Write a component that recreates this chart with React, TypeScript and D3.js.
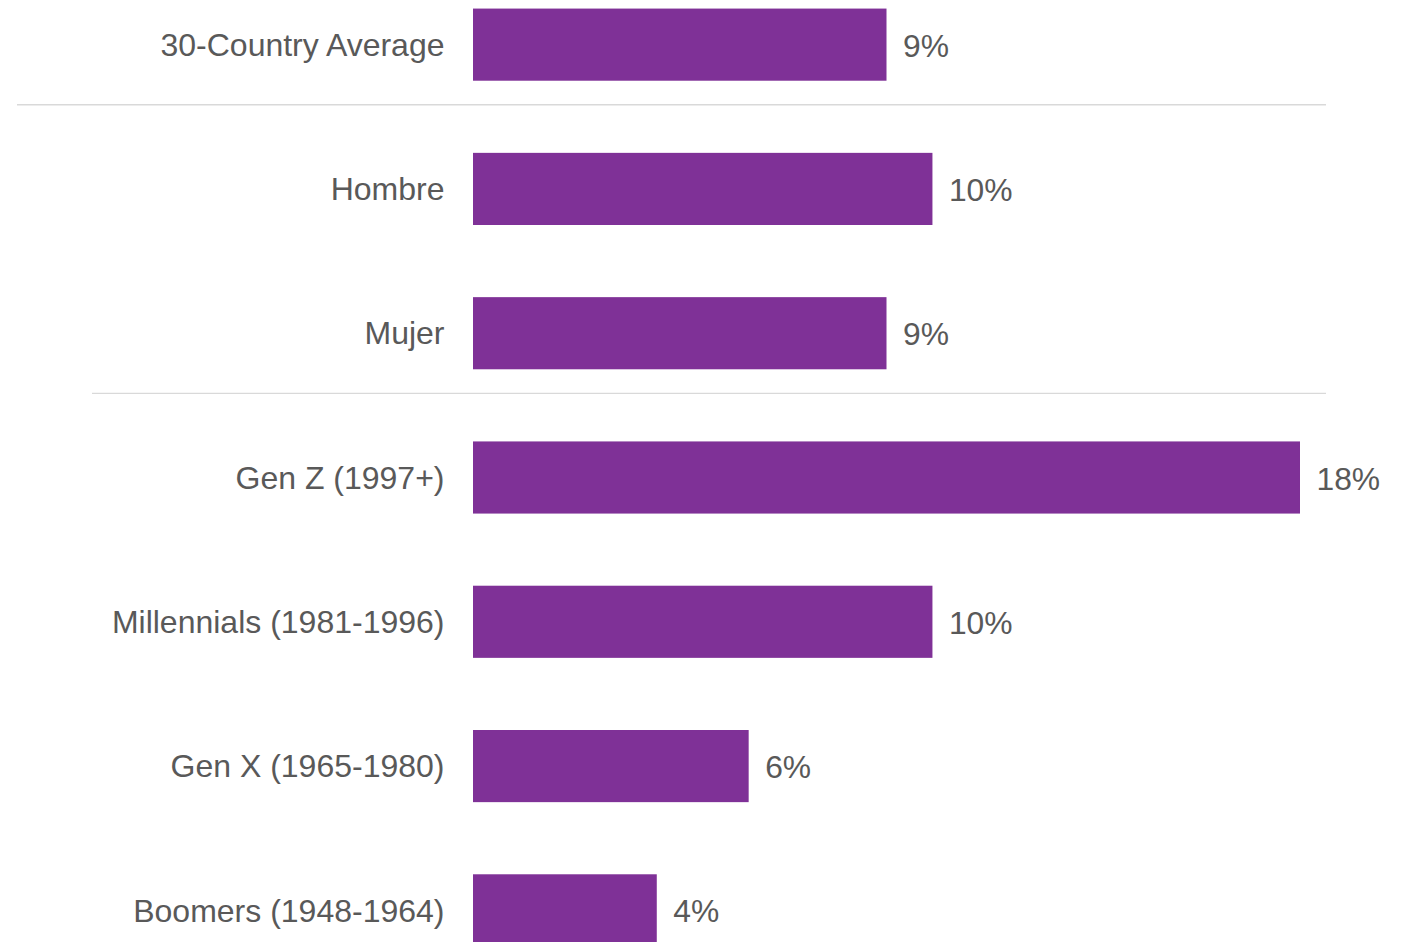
import React from 'react';
import * as d3 from 'd3';

const categories = [
    '30-Country Average',
    'Hombre',
    'Mujer',
    'Gen Z (1997+)',
    'Millennials (1981-1996)',
    'Gen X (1965-1980)',
    'Boomers (1948-1964)',
];
const values = [9, 10, 9, 18, 10, 6, 4];
const valueLabels = ['9%', '10%', '9%', '18%', '10%', '6%', '4%'];
// separators are drawn below these categories
const separatorAfter = ['30-Country Average', 'Mujer'];
const separatorStart = [17, 92];

const WIDTH = 1401;
const HEIGHT = 942;
const BAR_COLOR = '#7f3197';
const TEXT_COLOR = '#595959';
const FONT = '"Liberation Sans", Arial, sans-serif';

const App: React.FC = () => {
    const x = d3.scaleLinear().domain([0, 18]).range([473, 1300]);

    const y = d3.scaleBand<string>()
        .domain(categories)
        .range([-27.5, 982.5])
        .paddingInner(0.5)
        .paddingOuter(0.25);

    const bw = y.bandwidth();
    const gap = y.step() - bw;

    return (
        <svg
            width={WIDTH}
            height={HEIGHT}
            style={{ position: 'absolute', left: 0, top: 0, display: 'block', background: '#fff' }}
        >
            {separatorAfter.map((cat, i) => {
                const yy = (y(cat) ?? 0) + bw + gap / 3;
                return (
                    <line
                        key={cat}
                        x1={separatorStart[i]}
                        x2={1326}
                        y1={yy}
                        y2={yy}
                        stroke="#d9d9d9"
                        strokeWidth={1.3}
                    />
                );
            })}
            {categories.map((cat, i) => {
                const y0 = y(cat) ?? 0;
                const cy = y0 + bw / 2;
                return (
                    <g key={cat}>
                        <rect
                            x={x(0)}
                            y={y0}
                            width={x(values[i]) - x(0)}
                            height={bw}
                            fill={BAR_COLOR}
                        />
                        <text
                            x={x(0) - 28.5}
                            y={cy}
                            dy="0.35em"
                            textAnchor="end"
                            fontFamily={FONT}
                            fontSize={32}
                            fill={TEXT_COLOR}
                        >
                            {cat}
                        </text>
                        <text
                            x={x(values[i]) + 16.5}
                            y={cy + 1}
                            dy="0.35em"
                            textAnchor="start"
                            fontFamily={FONT}
                            fontSize={31.8}
                            fill={TEXT_COLOR}
                        >
                            {valueLabels[i]}
                        </text>
                    </g>
                );
            })}
        </svg>
    );
};

export default App;
